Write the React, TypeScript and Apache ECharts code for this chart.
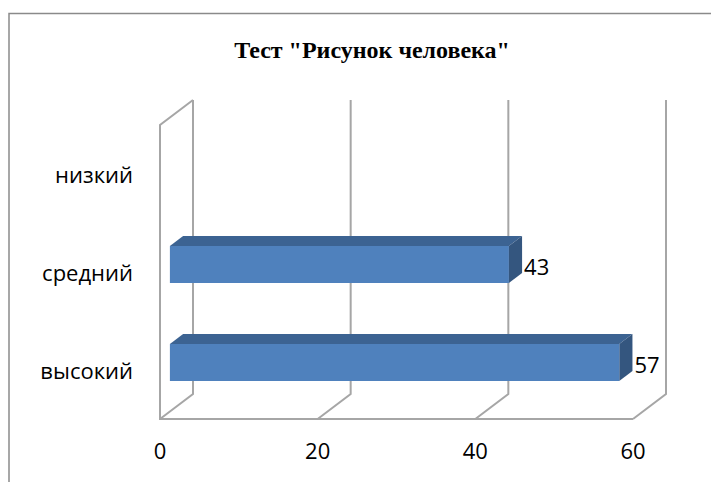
import React, { useEffect, useRef } from "react";
import * as echarts from "echarts";

const title = 'Тест "Рисунок человека"';
const categories = ["высокий", "средний", "низкий"];
const values: (number | null)[] = [57, 43, null];
const xTicks = [0, 20, 40, 60];

const DX = 33;
const DY = -25;
const FRONT_T = 0.3;
const BACK_T = 0.7;
const BAR_RATIO = 0.38;
const GRID_COLOR = "#a6a6a6";

export default function App() {
  const ref = useRef<HTMLDivElement>(null);
  useEffect(() => {
    if (!ref.current) return;
    const chart = echarts.init(ref.current, undefined, { renderer: "svg" });
    const wallData = xTicks.map((v, i) => [v, i]);
    const barData = values
      .map((v, i) => (v == null ? null : [v, i]))
      .filter((d) => d != null) as number[][];

    chart.setOption({
      animation: false,
      backgroundColor: "#ffffff",
      title: {
        text: title,
        left: 367,
        top: 33,
        textAlign: "center",
        textStyle: {
          fontFamily: "Liberation Serif",
          fontWeight: "bold",
          fontSize: 24,
          color: "#000000",
        },
      },
      grid: { left: 160, right: 78, top: 125, bottom: 63 },
      xAxis: {
        type: "value",
        min: 0,
        max: 60,
        interval: 20,
        axisLine: { show: false },
        axisTick: { show: false },
        splitLine: { show: false },
        axisLabel: {
          margin: 20,
          fontFamily: "Open Sans",
          fontSize: 22,
          color: "#000000",
        },
      },
      yAxis: {
        type: "category",
        data: categories,
        axisLine: { show: false },
        axisTick: { show: false },
        splitLine: { show: false },
        axisLabel: {
          margin: 27,
          fontFamily: "Open Sans",
          fontSize: 22,
          color: "#000000",
          padding: [6, 0, 0, 0],
        },
      },
      graphic: [
        {
          type: "polyline",
          shape: { points: [[9, 482], [9, 13.5], [711, 13.5]] },
          style: { stroke: "#8a8a8a", lineWidth: 1.5, fill: null },
          silent: true,
        },
      ],
      series: [
        {
          type: "custom",
          name: "walls",
          z: 1,
          silent: true,
          data: wallData,
          renderItem: (params: any, api: any) => {
            const v = api.value(0);
            const idx = api.value(1);
            const cs = params.coordSys;
            const x = api.coord([v, 0])[0];
            const top = cs.y;
            const bottom = cs.y + cs.height;
            const lineStyle = { stroke: GRID_COLOR, lineWidth: 2, fill: null };
            const children: any[] = [
              {
                type: "polyline",
                shape: {
                  points: [
                    [x, bottom],
                    [x + DX, bottom + DY],
                    [x + DX, top + DY],
                  ],
                },
                style: lineStyle,
              },
            ];
            if (idx === 0) {
              children.push({
                type: "polyline",
                shape: {
                  points: [
                    [x + cs.width, bottom],
                    [x, bottom],
                    [x, top],
                    [x + DX, top + DY],
                  ],
                },
                style: lineStyle,
              });
            }
            return { type: "group", children };
          },
        },
        {
          type: "custom",
          name: "Ряд 1",
          z: 3,
          data: barData,
          renderItem: (params: any, api: any) => {
            const v = api.value(0);
            const c = api.value(1);
            const p0 = api.coord([0, c]);
            const p1 = api.coord([v, c]);
            const band = api.size([0, 1])[1];
            const h = band * BAR_RATIO;
            const fx = DX * FRONT_T;
            const fy = DY * FRONT_T;
            const bx = DX * BACK_T;
            const by = DY * BACK_T;
            const x0 = p0[0];
            const x1 = p1[0];
            const yt = p0[1] - h / 2;
            const yb = p0[1] + h / 2;
            return {
              type: "group",
              children: [
                {
                  type: "polygon",
                  shape: {
                    points: [
                      [x0 + fx, yt + fy],
                      [x1 + fx, yt + fy],
                      [x1 + bx, yt + by],
                      [x0 + bx, yt + by],
                    ],
                  },
                  style: { fill: "#3c6392" },
                },
                {
                  type: "polygon",
                  shape: {
                    points: [
                      [x1 + fx, yt + fy],
                      [x1 + bx, yt + by],
                      [x1 + bx, yb + by],
                      [x1 + fx, yb + fy],
                    ],
                  },
                  style: { fill: "#34567f" },
                },
                {
                  type: "rect",
                  shape: { x: x0 + fx, y: yt + fy, width: x1 - x0, height: h },
                  style: { fill: "#4f81bd" },
                },
                {
                  type: "text",
                  x: x1 + bx + 2,
                  y: p0[1] + fy + 1,
                  style: {
                    text: String(v),
                    fontFamily: "Open Sans",
                    fontSize: 22,
                    fill: "#000000",
                    align: "left",
                    verticalAlign: "middle",
                  },
                },
              ],
            };
          },
        },
      ],
    });
    return () => chart.dispose();
  }, []);

  return (
    <div
      ref={ref}
      style={{ position: "fixed", left: 0, top: 0, width: 711, height: 482 }}
    />
  );
}
